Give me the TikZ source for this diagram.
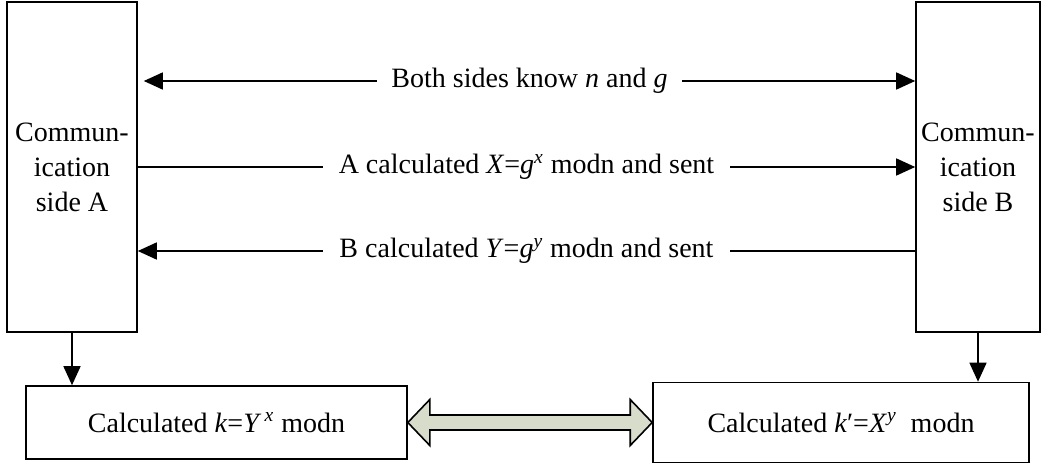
\documentclass[tikz,border=0pt]{standalone}
\usepackage{fontspec}
\setmainfont{Liberation Serif}
\usetikzlibrary{arrows.meta}
\definecolor{shaftfill}{RGB}{215,220,203}
\begin{document}
\begin{tikzpicture}[x=0.5pt, y=-0.5pt, font=\fontsize{14pt}{17.5pt}\selectfont,
    sidebox/.style={draw, line width=0.8pt, align=center, inner sep=0pt, minimum height=165pt},
    keybox/.style={draw, line width=0.8pt, inner sep=0pt},
    msg/.style={line width=0.75pt, -{Triangle[length=9.5pt,width=8.5pt]}},
    lbl/.style={fill=white, inner ysep=1pt, inner xsep=8pt}]
        \useasboundingbox (0,0) rectangle (1042,465);

        \node [sidebox, minimum width=65pt] at (72, 167) (sideA) {Commun-\\ication\\side A};
        \node [sidebox, minimum width=62pt] at (978, 167) (sideB) {Commun-\\ication\\side B};
        \node [keybox, minimum width=190.5pt, minimum height=36.5pt] at (216.5, 422.5) (keyA)
            {Calculated \textit{k}=\textit{Y}\textsuperscript{\,\textit{x}} modn};
        \node [keybox, minimum width=188pt, minimum height=40pt] at (841, 422.5) (keyB)
            {Calculated \textit{k}′=\textit{X}\textsuperscript{\textit{y}}\ \ modn};

        % messages between the two sides
        \draw [msg, {Triangle[length=9.5pt,width=8.5pt]}-{Triangle[length=9.5pt,width=8.5pt]}]
            ([xshift=3pt, yshift=43pt]sideA.east) -- node[lbl, inner xsep=7pt] {Both sides know \textit{n} and \textit{g}} ([yshift=43pt]sideB.west);
        \draw [msg] (sideA.east) -- node[lbl] {A calculated \textit{X}=\textit{g}\textsuperscript{\textit{x}} modn and sent} (sideB.west);
        \draw [msg] ([yshift=-42pt]sideB.west) -- node[lbl] {B calculated \textit{Y}=\textit{g}\textsuperscript{\textit{y}} modn and sent} ([yshift=-42pt]sideA.east);

        \draw [msg] (sideA.south) -- (sideA.south |- keyA.north);
        \draw [msg] (sideB.south) -- (sideB.south |- keyB.north);

        % shared key
        \draw [line width=0.8pt, fill=shaftfill, line join=miter]
            (keyA.east) -- ([shift={(22,-23)}]keyA.east) -- ([shift={(22,-7.5)}]keyA.east)
            -- ([shift={(-22,-7.5)}]keyB.west) -- ([shift={(-22,-23)}]keyB.west) -- (keyB.west)
            -- ([shift={(-22,23)}]keyB.west) -- ([shift={(-22,7.5)}]keyB.west)
            -- ([shift={(22,7.5)}]keyA.east) -- ([shift={(22,23)}]keyA.east) -- cycle;
\end{tikzpicture}
\end{document}
